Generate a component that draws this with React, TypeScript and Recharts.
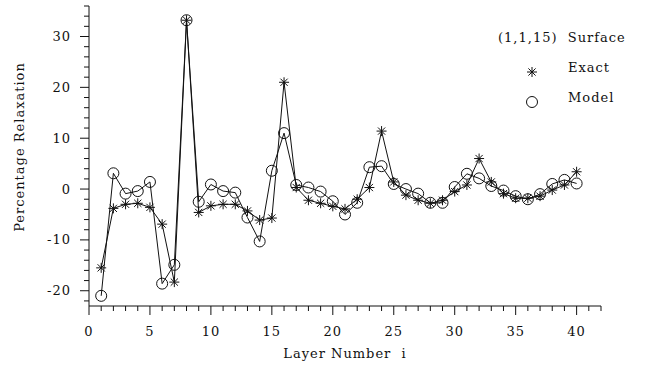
import React from 'react';
import { LineChart, Line, XAxis, YAxis } from 'recharts';

const layers = [1,2,3,4,5,6,7,8,9,10,11,12,13,14,15,16,17,18,19,20,21,22,23,24,25,26,27,28,29,30,31,32,33,34,35,36,37,38,39,40];
const exact = [-15.5,-3.8,-3.0,-2.8,-3.6,-6.9,-18.3,33.2,-4.6,-3.3,-3.0,-3.0,-4.3,-6.1,-5.7,21.0,0.3,-2.2,-2.8,-3.4,-3.9,-2.0,0.3,11.4,1.4,-1.2,-2.2,-2.8,-2.2,-0.5,0.8,6.0,1.4,-0.9,-1.8,-1.8,-1.4,-0.2,0.8,3.4];
const model = [-21.0,3.1,-0.9,-0.4,1.4,-18.6,-14.9,33.2,-2.5,0.9,-0.4,-0.7,-5.6,-10.3,3.6,11.0,0.8,0.3,-0.5,-2.4,-5.0,-2.7,4.3,4.5,1.0,0.0,-0.9,-2.7,-2.7,0.4,3.0,2.1,0.6,-0.3,-1.4,-2.0,-1.0,1.0,1.8,1.1];
const xTicks = [0,1,2,3,4,5,6,7,8,9,10,11,12,13,14,15,16,17,18,19,20,21,22,23,24,25,26,27,28,29,30,31,32,33,34,35,36,37,38,39,40,41,42];
const yTicks = [-22,-20,-18,-16,-14,-12,-10,-8,-6,-4,-2,0,2,4,6,8,10,12,14,16,18,20,22,24,26,28,30,32,34,36];
const title = '(1,1,15)  Surface';
const seriesNames = ['Exact', 'Model'];
const xLabel = 'Layer Number  i';
const yLabel = 'Percentage Relaxation';

const data = layers.map((l, i) => ({ layer: l, exact: exact[i], model: model[i] }));

const FONT = 'DejaVu Serif';
const INK = '#111';

const Star = ({ cx, cy, r = 5 }: any) => {
  if (cx == null || cy == null) return <g />;
  const d = r * 0.72;
  return (
    <g stroke={INK} strokeWidth={1}>
      <line x1={cx} y1={cy - r} x2={cx} y2={cy + r} />
      <line x1={cx - r} y1={cy} x2={cx + r} y2={cy} />
      <line x1={cx - d} y1={cy - d} x2={cx + d} y2={cy + d} />
      <line x1={cx - d} y1={cy + d} x2={cx + d} y2={cy - d} />
    </g>
  );
};

const Ring = ({ cx, cy }: any) => {
  if (cx == null || cy == null) return <g />;
  return <circle cx={cx} cy={cy} r={5.5} fill="none" stroke={INK} strokeWidth={1} />;
};

const XTick = (props: any) => {
  const { x, y, payload } = props;
  const v = payload.value;
  const major = v % 5 === 0 && v <= 40;
  return (
    <g>
      <line x1={x} y1={y} x2={x} y2={y + (major ? 9 : 5)} stroke={INK} strokeWidth={1} />
      {major && (
        <text x={x} y={y + 30} textAnchor="middle" fontFamily={FONT} fontSize={13} fill={INK} letterSpacing={1}>
          {v}
        </text>
      )}
    </g>
  );
};

const YTick = (props: any) => {
  const { x, y, payload } = props;
  const v = payload.value;
  const major = v % 10 === 0;
  return (
    <g>
      <line x1={x} y1={y} x2={x - (major ? 9 : 5)} y2={y} stroke={INK} strokeWidth={1} />
      {major && (
        <text x={x - 18} y={y + 4.5} textAnchor="end" fontFamily={FONT} fontSize={13} fill={INK} letterSpacing={1}>
          {v}
        </text>
      )}
    </g>
  );
};

export default function App() {
  return (
    <div style={{ position: 'absolute', left: 0, top: 0, width: 647, height: 373, background: '#fff' }}>
      <LineChart width={647} height={373} data={data} margin={{ top: 6, right: 46, bottom: 0, left: 0 }}>
        <XAxis
          dataKey="layer"
          type="number"
          domain={[0, 42]}
          ticks={xTicks}
          interval={0}
          tick={<XTick />}
          tickLine={false}
          tickSize={0}
          tickMargin={0}
          height={67}
          axisLine={{ stroke: INK, strokeWidth: 1 }}
          allowDataOverflow
        />
        <YAxis
          type="number"
          domain={[-23, 36]}
          ticks={yTicks}
          interval={0}
          tick={<YTick />}
          tickLine={false}
          tickSize={0}
          tickMargin={0}
          width={89}
          axisLine={{ stroke: INK, strokeWidth: 1 }}
          allowDataOverflow
        />
        <Line
          dataKey="model"
          stroke={INK}
          strokeWidth={1}
          isAnimationActive={false}
          dot={(p: any) => <Ring key={'m' + p.index} cx={p.cx} cy={p.cy} />}
          activeDot={false}
        />
        <Line
          dataKey="exact"
          stroke={INK}
          strokeWidth={1}
          isAnimationActive={false}
          dot={(p: any) => <Star key={'e' + p.index} cx={p.cx} cy={p.cy} />}
          activeDot={false}
        />
      </LineChart>
      <svg width={647} height={373} style={{ position: 'absolute', left: 0, top: 0, pointerEvents: 'none' }}>
        <text x={498} y={42} fontFamily={FONT} fontSize={13} fill={INK} letterSpacing={1} style={{ whiteSpace: 'pre' }}>
          {title}
        </text>
        <Star cx={532} cy={72} />
        <text x={568} y={72} fontFamily={FONT} fontSize={13} fill={INK} letterSpacing={1}>
          {seriesNames[0]}
        </text>
        <Ring cx={532} cy={102} />
        <text x={568} y={102} fontFamily={FONT} fontSize={13} fill={INK} letterSpacing={1}>
          {seriesNames[1]}
        </text>
        <text x={345} y={358} textAnchor="middle" fontFamily={FONT} fontSize={13} fill={INK} letterSpacing={1} style={{ whiteSpace: 'pre' }}>
          {xLabel}
        </text>
        <text
          x={24}
          y={147}
          transform="rotate(-90 24 147)"
          textAnchor="middle"
          fontFamily={FONT}
          fontSize={13}
          fill={INK}
          letterSpacing={1}
        >
          {yLabel}
        </text>
      </svg>
    </div>
  );
}
